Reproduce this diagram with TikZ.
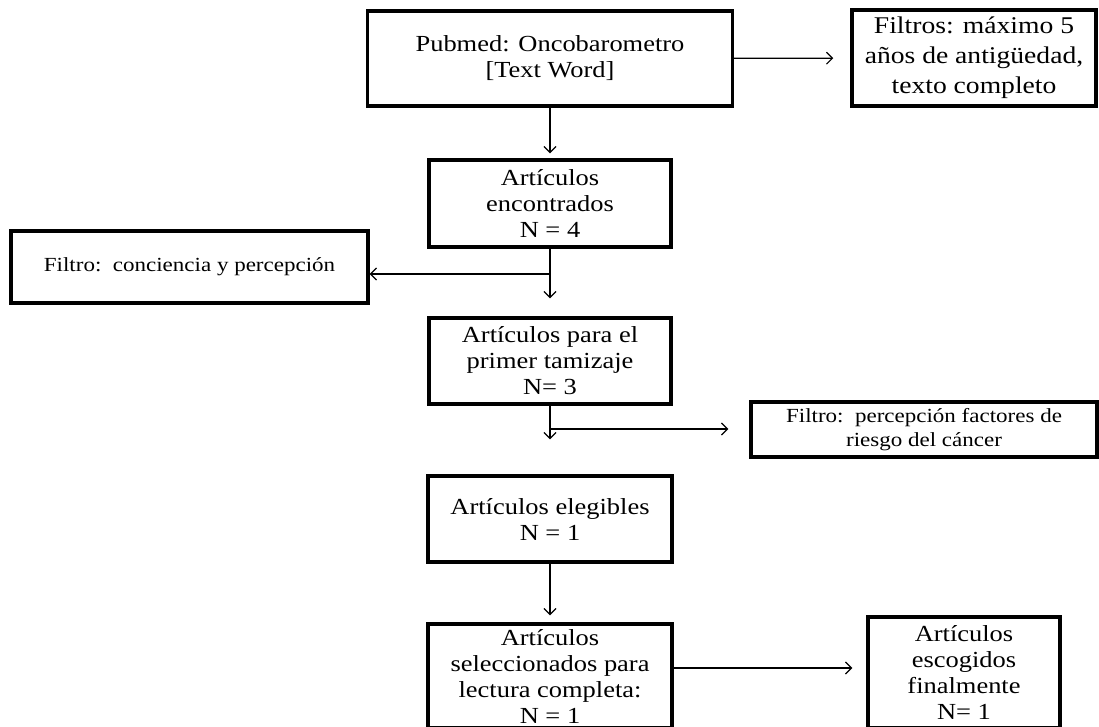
\documentclass[tikz,border=0pt]{standalone}
\usepackage{fontspec}
\setmainfont{Liberation Serif}[FakeStretch=1.15]
\usetikzlibrary{arrows.meta}

\begin{document}
\begin{tikzpicture}[x=1pt,y=-1pt,
box/.style = {draw, line width=3.4pt, align=center, inner sep=0pt,
  font=\fontsize{23}{26}\selectfont},
filtro/.style = {box, font=\fontsize{20}{24}\selectfont},
flecha/.style = {line width=1.2pt, -{Straight Barb[length=6pt,width=12pt]}}]
\useasboundingbox (0,0) rectangle (1099,726);
\node[box, minimum width=365pt, minimum height=95pt] (pubmed) at (550,58.5)
  {Pubmed: Oncobarometro\\{[Text Word]}};
\node[box, font=\fontsize{24}{30}\selectfont, minimum width=244pt, minimum height=96pt] (filtros) at (974,58)
  {Filtros: máximo 5\\años de antigüedad,\\texto completo};
\node[box, minimum width=242pt, minimum height=87pt] (encontrados) at (550,203.5)
  {Artículos\\encontrados\\N = 4};
\node[filtro, minimum width=357pt, minimum height=72pt] (conciencia) at (189.5,267)
  {Filtro:\ \ conciencia y percepción};
\node[box, minimum width=242pt, minimum height=86pt] (tamizaje) at (550,361)
  {Artículos para el\\primer tamizaje\\N= 3};
\node[filtro, minimum width=346pt, minimum height=55pt] (riesgo) at (924,429.5)
  {Filtro:\ \ percepción factores de\\riesgo del cáncer};
\node[box, minimum width=244pt, minimum height=86pt] (elegibles) at (550,519)
  {Artículos elegibles\\N = 1};
\node[box, minimum width=244pt, minimum height=104pt] (lectura) at (550,676)
  {Artículos\\seleccionados para\\lectura completa:\\N = 1};
\node[box, minimum width=192pt, minimum height=111pt] (escogidos) at (964,672.5)
  {Artículos\\escogidos\\finalmente\\N= 1};
\coordinate (j1) at (550,274);
\coordinate (j2) at (550,429);
\draw[flecha, shorten >=17pt] (pubmed) -- (filtros);
\draw[flecha, shorten >=5pt] (pubmed) -- (encontrados);
\draw[flecha, shorten >=18pt] (encontrados) -- (tamizaje);
\draw[flecha] (j1) -- (j1 -| conciencia.east);
\draw[flecha, shorten >=35pt] (tamizaje) -- (elegibles);
\draw[flecha, shorten >=21pt] (j2) -- (j2 -| riesgo.west);
\draw[flecha, shorten >=7pt] (elegibles) -- (lectura);
\draw[flecha, shorten >=14pt] ([yshift=8pt]lectura.east) -- ([yshift=8pt]lectura.east -| escogidos.west);
\end{tikzpicture}
\end{document}
